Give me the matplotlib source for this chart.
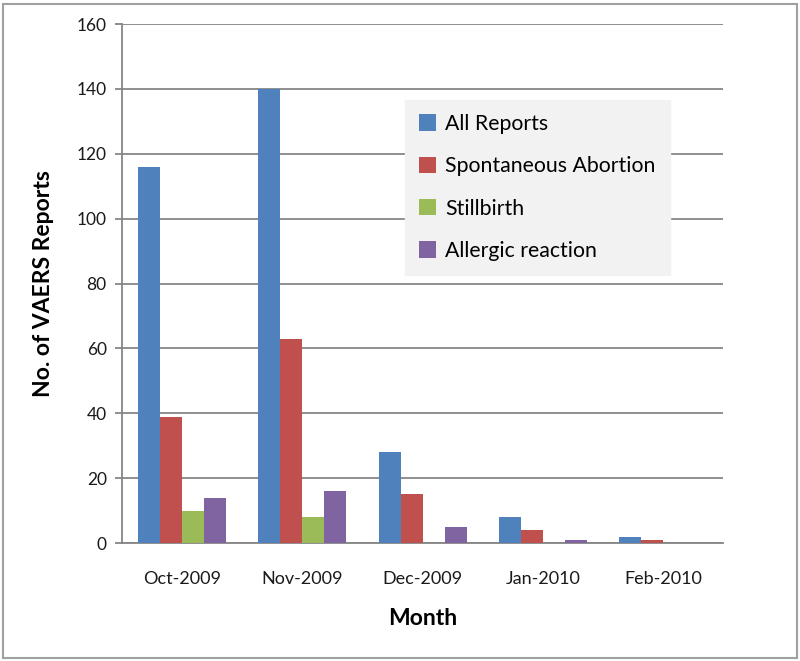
#!/usr/bin/env python3
# -*- coding: utf-8 -*-
"""VAERS reports by month - grouped bar chart"""

import numpy as np
import matplotlib
matplotlib.use('Agg')
import matplotlib.pyplot as plt
from matplotlib.patches import Rectangle

plt.rcParams['font.family'] = ['Lato', 'DejaVu Sans']

# ---- data ----
months = ['Oct-2009', 'Nov-2009', 'Dec-2009', 'Jan-2010', 'Feb-2010']
all_reports = [116, 140, 28, 8, 2]
spont_abortion = [39, 63, 15, 4, 1]
stillbirth = [10, 8, 0, 0, 0]
allergic = [14, 16, 5, 1, 0]

series = [
    ('All Reports', all_reports, '#4F81BD'),
    ('Spontaneous Abortion', spont_abortion, '#C0504D'),
    ('Stillbirth', stillbirth, '#9BBB59'),
    ('Allergic reaction', allergic, '#8064A2'),
]

fig = plt.figure(figsize=(8, 6.61), dpi=100)
ax = fig.add_axes([0.1525, 0.1785, 0.7513, 0.785])

x = np.arange(len(months))
w = 0.183
for i, (name, vals, color) in enumerate(series):
    ax.bar(x + (i - 1.5) * w, vals, width=w, color=color, label=name, zorder=3)

ax.set_xlim(-0.5, len(months) - 0.5)
ax.set_ylim(0, 160)
ax.set_yticks(range(0, 161, 20))
ax.set_xticks(x)
ax.set_xticklabels(months)

grid_c = '#868686'
ax.yaxis.grid(True, color=grid_c, linewidth=1.3, zorder=0)
for s in ['top', 'right']:
    ax.spines[s].set_visible(False)
for s in ['left', 'bottom']:
    ax.spines[s].set_color(grid_c)
    ax.spines[s].set_linewidth(1.3)
ax.tick_params(axis='y', direction='out', length=5, width=1.3, color=grid_c,
               labelsize=12.5, labelcolor='#1a1a1a', pad=6)
ax.tick_params(axis='x', length=0, labelsize=13, labelcolor='#1a1a1a', pad=20)

ax.set_xlabel('Month', fontsize=16.5, fontweight='bold', labelpad=15)
ax.set_ylabel('No. of VAERS Reports', fontsize=16.5, fontweight='bold', labelpad=16)

leg = ax.legend(loc='upper left', bbox_to_anchor=(0.471, 0.8536), frameon=True,
                fancybox=False, fontsize=15.3, handlelength=0.8, handleheight=0.8,
                handletextpad=0.45, labelspacing=1.05, borderpad=0.65,
                borderaxespad=0)
leg.get_frame().set_facecolor('#f2f2f2')
leg.get_frame().set_edgecolor('#f2f2f2')
leg.get_frame().set_alpha(1)

# outer chart border
fig.patches.append(Rectangle((0.004, 0.004), 0.992, 0.99, transform=fig.transFigure,
                             fill=False, edgecolor='#a0a0a0', linewidth=1.5))

fig.savefig('out.png', dpi=100)
